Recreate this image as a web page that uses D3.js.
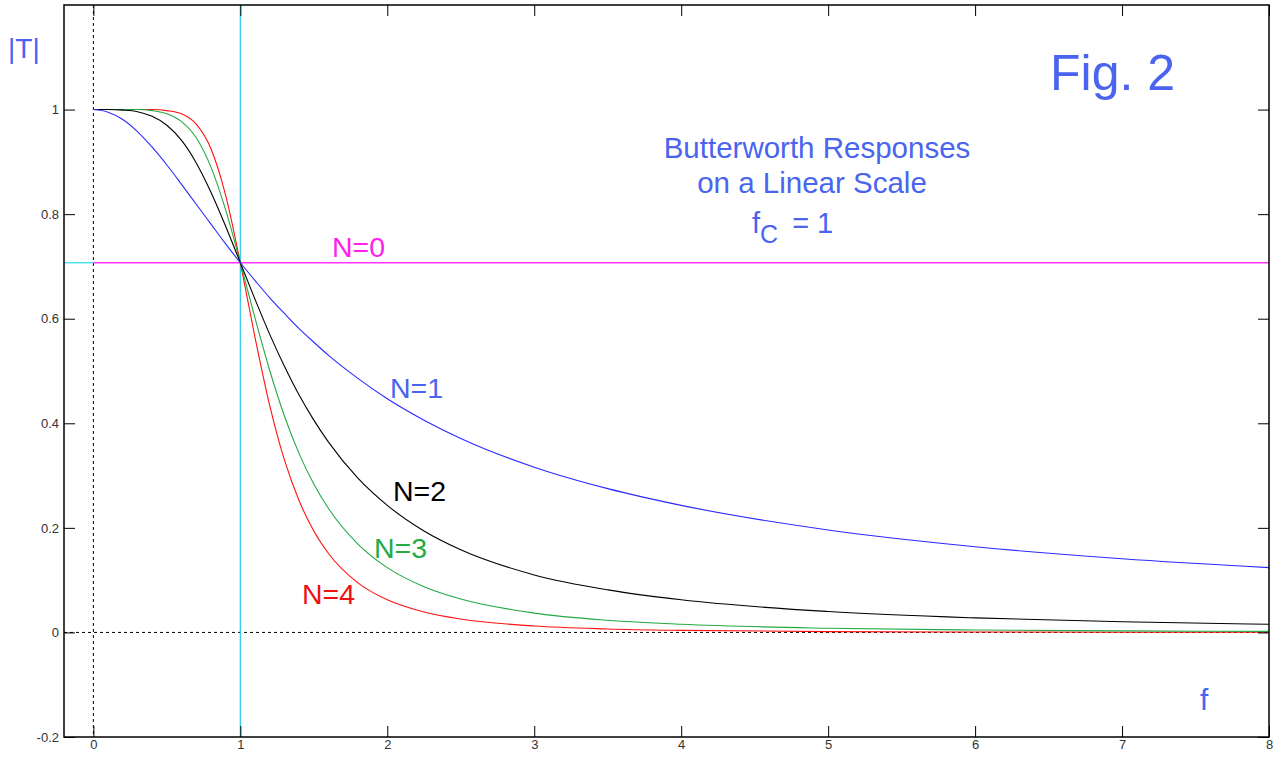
<!DOCTYPE html>
<html><head><meta charset="utf-8">
<script src="https://cdn.jsdelivr.net/npm/d3@7"></script>
<style>body{margin:0;background:#fff;} svg{display:block;font-family:Arial,"Liberation Sans",sans-serif;} .ax text{font-size:13px;font-family:Arial,"Liberation Sans",sans-serif;fill:#333;}</style>
</head><body><svg id="c" width="1285" height="759"></svg>
<script>
// frequencies (f) at which values were read
const freqs = [0,0.1,0.2,0.3,0.4,0.5,0.6,0.7,0.8,0.9,1,1.1,1.2,1.3,1.4,1.5,1.6,1.8,2,2.25,2.5,3,3.5,4,5,6,7,8];
const seriesN1 = [1,0.995,0.981,0.958,0.928,0.894,0.857,0.819,0.781,0.743,0.707,0.673,0.640,0.610,0.581,0.555,0.530,0.486,0.447,0.406,0.371,0.316,0.275,0.243,0.196,0.164,0.141,0.124];
const seriesN2 = [1,1,0.999,0.996,0.987,0.970,0.941,0.898,0.842,0.777,0.707,0.637,0.570,0.509,0.454,0.406,0.364,0.295,0.243,0.194,0.158,0.110,0.0814,0.0624,0.0400,0.0278,0.0204,0.0156];
const seriesN3 = [1,1,1,1,0.998,0.992,0.977,0.946,0.890,0.808,0.707,0.601,0.501,0.414,0.342,0.284,0.237,0.169,0.124,0.0875,0.0639,0.0370,0.0233,0.0156,0.0080,0.0046,0.0029,0.0020];
const seriesN4 = [1,1,1,1,1,0.998,0.992,0.972,0.925,0.836,0.707,0.564,0.434,0.330,0.252,0.194,0.151,0.0948,0.0624,0.0390,0.0256,0.0123,0.0067,0.0039,0.0016,0.0008,0.0004,0.0002];
const levelN0 = 0.707;
const xTicks = [0,1,2,3,4,5,6,7,8];
const yTicks = [-0.2,0,0.2,0.4,0.6,0.8,1];
const yTickLabels = ["-0.2","0","0.2","0.4","0.6","0.8","1"];
const seriesNames = ["N=1","N=2","N=3","N=4"];

const svg = d3.select("#c");
const L=64, R=1269, T=5, B=737;
const x = d3.scaleLinear().domain([-0.2,8]).range([L,R]);
const y = d3.scaleLinear().domain([-0.2,1.2]).range([B,T]);

const labelBlue = "#4a64f0";
const colors = {"N=1":"#2a2aff","N=2":"#000000","N=3":"#22aa44","N=4":"#ff1111"};
const labelColors = {"N=1":"#4a64f0","N=2":"#000000","N=3":"#22aa44","N=4":"#ee1111"};

// reference lines
svg.append("line").attr("x1",x(0)).attr("x2",x(0)).attr("y1",T).attr("y2",B)
  .attr("stroke","#000").attr("stroke-width",1).attr("stroke-dasharray","3,3");
svg.append("line").attr("x1",L).attr("x2",R).attr("y1",y(0)).attr("y2",y(0))
  .attr("stroke","#000").attr("stroke-width",1).attr("stroke-dasharray","3,3");
svg.append("line").attr("x1",x(1)).attr("x2",x(1)).attr("y1",T).attr("y2",B)
  .attr("stroke","#33ccee").attr("stroke-width",1.3);
svg.append("line").attr("x1",L).attr("x2",x(0)).attr("y1",y(levelN0)).attr("y2",y(levelN0))
  .attr("stroke","#33ddee").attr("stroke-width",1.3);
svg.append("line").attr("x1",x(0)).attr("x2",R).attr("y1",y(levelN0)).attr("y2",y(levelN0))
  .attr("stroke","#ff33ff").attr("stroke-width",1.3);

// curves
const line = d3.line().x((d,i)=>x(freqs[i])).y(d=>y(d)).curve(d3.curveMonotoneX);
const allSeries = [seriesN1,seriesN2,seriesN3,seriesN4];
[3,2,1,0].forEach(i=>{
  svg.append("path").attr("d",line(allSeries[i])).attr("fill","none")
    .attr("stroke",colors[seriesNames[i]]).attr("stroke-width",1.1);
});

// frame and axes
svg.append("rect").attr("x",L).attr("y",T).attr("width",R-L).attr("height",B-T)
  .attr("fill","none").attr("stroke","#000").attr("stroke-width",1.5);
const tickStyle = sel=>{
  sel.attr("class","ax").attr("font-size",null).attr("font-family",null);
  sel.select(".domain").remove();
  sel.selectAll("line").attr("stroke","#000");
};
svg.append("g").attr("transform",`translate(0,${B})`)
  .call(d3.axisBottom(x).tickValues(xTicks).tickSizeInner(-11).tickSizeOuter(0).tickPadding(3).tickFormat(d3.format("d")))
  .call(tickStyle);
svg.append("g").attr("transform",`translate(0,${T})`)
  .call(d3.axisTop(x).tickValues(xTicks).tickSizeInner(-11).tickSizeOuter(0).tickFormat(""))
  .call(tickStyle);
svg.append("g").attr("transform",`translate(${L},0)`)
  .call(d3.axisLeft(y).tickValues(yTicks).tickSizeInner(-11).tickSizeOuter(0).tickPadding(5).tickFormat((d,i)=>yTickLabels[i]))
  .call(tickStyle);
svg.append("g").attr("transform",`translate(${R},0)`)
  .call(d3.axisRight(y).tickValues(yTicks).tickSizeInner(-11).tickSizeOuter(0).tickFormat(""))
  .call(tickStyle);

// annotations
const txt = (tx,ty,s,size,col,anchor)=>svg.append("text").attr("x",tx).attr("y",ty).text(s)
  .attr("fill",col).style("font-size",size+"px").attr("text-anchor",anchor||"start");
txt(8,58,"|T|",28,labelBlue);
txt(1050,90,"Fig. 2",50,labelBlue);
txt(817,158,"Butterworth Responses",29.5,labelBlue,"middle");
txt(812,193,"on a Linear Scale",29.5,labelBlue,"middle");
const fc = svg.append("text").attr("x",752).attr("y",233).attr("fill",labelBlue).style("font-size","29px");
fc.append("tspan").text("f");
fc.append("tspan").text("C").attr("dy",10).style("font-size","25px");
fc.append("tspan").text("= 1").attr("dy",-10).attr("dx",14);
txt(1200,710,"f",30,labelBlue);
txt(332,257,"N=0",28.5,"#ff22ee");
txt(390,398,"N=1",28.5,labelColors["N=1"]);
txt(393,501,"N=2",28.5,labelColors["N=2"]);
txt(374,558,"N=3",28.5,labelColors["N=3"]);
txt(302,604,"N=4",28.5,labelColors["N=4"]);
</script></body></html>
